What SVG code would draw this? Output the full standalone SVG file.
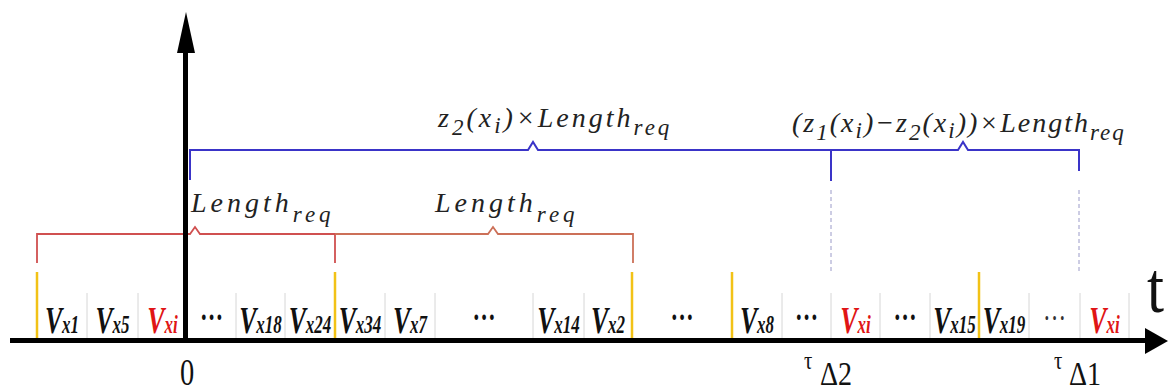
<svg xmlns="http://www.w3.org/2000/svg" width="1168" height="392" viewBox="0 0 1168 392">
<rect width="1168" height="392" fill="#fff"/>
<g id="separators" stroke="#d6d6d6" stroke-width="1">
<path d="M87,293V340M138,293V340M236,293V340M285,293V340M385,293V340M435,293V340M533,293V340M584,293V340M782,293V340M831,293V340M880,293V340M930,293V340M1029,293V340M1080,293V340M1129,293V340"/>
</g>
<g id="connectors" fill="none">
<path d="M190,180V150H528L533,142L538,150H958L963,142L968,150H1079V171M831,150V181" stroke="#3a34c8" stroke-width="2"/>
<path d="M831,190V272M1079,190V272" stroke="#9a9ac8" stroke-width="1" stroke-dasharray="4,3"/>
<path d="M37,263V234H190L195,227L200,234H335V263" stroke="#d05050" stroke-width="1.8"/>
<path d="M335,234H488L493,227L498,234H633V263" stroke="#cc7058" stroke-width="1.8"/>
<path d="M37,272V343M335,272V343M632,272V343M732,272V343M979,272V343" stroke="#f2c216" stroke-width="2.5"/>
</g>
<g id="axes">
<path d="M10,340.5H1148" stroke="#000" stroke-width="5"/>
<polygon points="1145,328 1168,341 1145,354" fill="#000"/>
<path d="M185.5,343V50" stroke="#000" stroke-width="5"/>
<polygon points="186,12 177,53 195,53" fill="#000"/>
</g>
<g id="cells">
<g id="c1"><text style="font-family:'Liberation Serif';font-style:italic;font-weight:bold;font-size:38px" fill="#111" text-anchor="middle" transform="translate(62,333) scale(0.68,1)">V<tspan font-size="25">x1</tspan></text></g>
<g id="c2"><text style="font-family:'Liberation Serif';font-style:italic;font-weight:bold;font-size:38px" fill="#111" text-anchor="middle" transform="translate(112.5,333) scale(0.68,1)">V<tspan font-size="25">x5</tspan></text></g>
<g id="c3"><text style="font-family:'Liberation Serif';font-style:italic;font-weight:bold;font-size:38px" fill="#e01515" text-anchor="middle" transform="translate(162.5,333) scale(0.68,1)">V<tspan font-size="25">xi</tspan></text></g>
<g id="c4"><text style="font-family:'Liberation Serif';font-weight:bold;font-size:34px" fill="#111" text-anchor="middle" transform="translate(211.5,320) scale(0.68,1)">…</text></g>
<g id="c5"><text style="font-family:'Liberation Serif';font-style:italic;font-weight:bold;font-size:38px" fill="#111" text-anchor="middle" transform="translate(260.5,333) scale(0.68,1)">V<tspan font-size="25">x18</tspan></text></g>
<g id="c6"><text style="font-family:'Liberation Serif';font-style:italic;font-weight:bold;font-size:38px" fill="#111" text-anchor="middle" transform="translate(310,333) scale(0.68,1)">V<tspan font-size="25">x24</tspan></text></g>
<g id="c7"><text style="font-family:'Liberation Serif';font-style:italic;font-weight:bold;font-size:38px" fill="#111" text-anchor="middle" transform="translate(360,333) scale(0.68,1)">V<tspan font-size="25">x34</tspan></text></g>
<g id="c8"><text style="font-family:'Liberation Serif';font-style:italic;font-weight:bold;font-size:38px" fill="#111" text-anchor="middle" transform="translate(410,333) scale(0.68,1)">V<tspan font-size="25">x7</tspan></text></g>
<g id="c9"><text style="font-family:'Liberation Serif';font-weight:bold;font-size:34px" fill="#111" text-anchor="middle" transform="translate(484,320) scale(0.68,1)">…</text></g>
<g id="c10"><text style="font-family:'Liberation Serif';font-style:italic;font-weight:bold;font-size:38px" fill="#111" text-anchor="middle" transform="translate(558.5,333) scale(0.68,1)">V<tspan font-size="25">x14</tspan></text></g>
<g id="c11"><text style="font-family:'Liberation Serif';font-style:italic;font-weight:bold;font-size:38px" fill="#111" text-anchor="middle" transform="translate(608,333) scale(0.68,1)">V<tspan font-size="25">x2</tspan></text></g>
<g id="c12"><text style="font-family:'Liberation Serif';font-weight:bold;font-size:34px" fill="#111" text-anchor="middle" transform="translate(682,320) scale(0.68,1)">…</text></g>
<g id="c13"><text style="font-family:'Liberation Serif';font-style:italic;font-weight:bold;font-size:38px" fill="#111" text-anchor="middle" transform="translate(757,333) scale(0.68,1)">V<tspan font-size="25">x8</tspan></text></g>
<g id="c14"><text style="font-family:'Liberation Serif';font-weight:bold;font-size:34px" fill="#111" text-anchor="middle" transform="translate(806.5,320) scale(0.68,1)">…</text></g>
<g id="c15"><text style="font-family:'Liberation Serif';font-style:italic;font-weight:bold;font-size:38px" fill="#e01515" text-anchor="middle" transform="translate(855.5,333) scale(0.68,1)">V<tspan font-size="25">xi</tspan></text></g>
<g id="c16"><text style="font-family:'Liberation Serif';font-weight:bold;font-size:34px" fill="#111" text-anchor="middle" transform="translate(905,320) scale(0.68,1)">…</text></g>
<g id="c17"><text style="font-family:'Liberation Serif';font-style:italic;font-weight:bold;font-size:38px" fill="#111" text-anchor="middle" transform="translate(954.5,333) scale(0.68,1)">V<tspan font-size="25">x15</tspan></text></g>
<g id="c18"><text style="font-family:'Liberation Serif';font-style:italic;font-weight:bold;font-size:38px" fill="#111" text-anchor="middle" transform="translate(1004,333) scale(0.68,1)">V<tspan font-size="25">x19</tspan></text></g>
<g id="c19"><text style="font-family:'Liberation Serif';font-size:34px" fill="#333" text-anchor="middle" transform="translate(1054.5,320) scale(0.68,1)">…</text></g>
<g id="c20"><text style="font-family:'Liberation Serif';font-style:italic;font-weight:bold;font-size:38px" fill="#e01515" text-anchor="middle" transform="translate(1104.5,333) scale(0.68,1)">V<tspan font-size="25">xi</tspan></text></g>
</g>
<g id="labels">
<text style="font-family:'Liberation Serif';font-style:italic;font-size:28px" fill="#222" x="438" y="127" letter-spacing="3">z<tspan font-size="23" dy="8">2</tspan><tspan dy="-8">(x</tspan><tspan font-size="23" dy="6">i</tspan><tspan dy="-6">)×Length</tspan><tspan font-size="23" dy="8">req</tspan></text>
<text style="font-family:'Liberation Serif';font-style:italic;font-size:28px" fill="#222" x="792" y="132" letter-spacing="2">(z<tspan font-size="23" dy="8">1</tspan><tspan dy="-8">(x</tspan><tspan font-size="23" dy="6">i</tspan><tspan dy="-6">)−z</tspan><tspan font-size="23" dy="8">2</tspan><tspan dy="-8">(x</tspan><tspan font-size="23" dy="6">i</tspan><tspan dy="-6">))×Length</tspan><tspan font-size="23" dy="8">req</tspan></text>
<text style="font-family:'Liberation Serif';font-style:italic;font-size:28px" fill="#222" x="191" y="212" letter-spacing="4">Length<tspan font-size="23" dy="10">req</tspan></text>
<text style="font-family:'Liberation Serif';font-style:italic;font-size:28px" fill="#222" x="435" y="212" letter-spacing="4">Length<tspan font-size="23" dy="10">req</tspan></text>
</g>
<g id="ticks">
<text style="font-family:'Liberation Serif';font-size:38px" fill="#111" text-anchor="middle" transform="translate(187,385) scale(0.75,1)">0</text>
<text style="font-family:'Liberation Serif';font-size:26px" fill="#111" transform="translate(804,369) scale(0.8,1)">τ</text>
<text style="font-family:'Liberation Serif';font-size:33px" fill="#111" transform="translate(820,385) scale(0.85,1)">Δ2</text>
<text style="font-family:'Liberation Serif';font-size:26px" fill="#111" transform="translate(1054,369) scale(0.8,1)">τ</text>
<text style="font-family:'Liberation Serif';font-size:33px" fill="#111" transform="translate(1069,385) scale(0.85,1)">Δ1</text>
<text style="font-family:'Liberation Serif';font-size:72px" fill="#111" transform="translate(1147,312) scale(0.85,1)">t</text>
</g>
</svg>
